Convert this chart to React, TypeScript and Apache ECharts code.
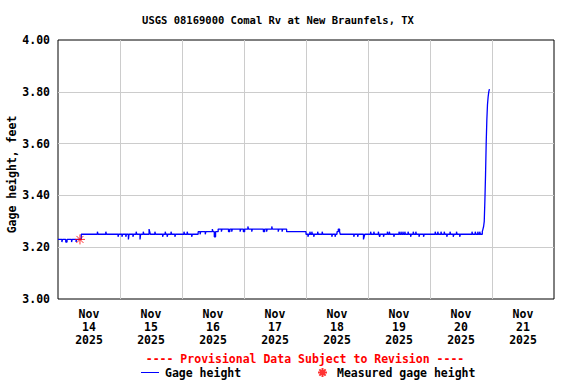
import React, { useEffect, useRef } from "react";
import * as echarts from "echarts";

const chartTitle = "USGS 08169000 Comal Rv at New Braunfels, TX";
const yAxisName = "Gage height, feet";
const provisionalNote = "---- Provisional Data Subject to Revision ----";
const dayLabels = ["Nov\n14\n2025", "Nov\n15\n2025", "Nov\n16\n2025", "Nov\n17\n2025", "Nov\n18\n2025", "Nov\n19\n2025", "Nov\n20\n2025", "Nov\n21\n2025"];
const yTicks = [3.0, 3.2, 3.4, 3.6, 3.8, 4.0];

// change points of the 15-minute gage height record (value holds until next entry)
const gageHeight: [string, number][] = [
  ["11-14 00:00", 3.23],
  ["11-14 01:30", 3.22], ["11-14 01:45", 3.23],
  ["11-14 03:00", 3.22], ["11-14 03:30", 3.23],
  ["11-14 05:15", 3.22], ["11-14 05:30", 3.23],
  ["11-14 07:00", 3.22], ["11-14 07:15", 3.23],
  ["11-14 09:00", 3.25],
  ["11-14 15:15", 3.26], ["11-14 15:30", 3.25],
  ["11-14 18:30", 3.26], ["11-14 18:45", 3.25],
  ["11-14 23:15", 3.24], ["11-14 23:30", 3.25],
  ["11-15 00:45", 3.24], ["11-15 01:00", 3.25],
  ["11-15 02:15", 3.24], ["11-15 02:30", 3.25],
  ["11-15 03:15", 3.23], ["11-15 03:30", 3.25],
  ["11-15 05:00", 3.24], ["11-15 05:15", 3.25],
  ["11-15 06:15", 3.26], ["11-15 06:30", 3.25],
  ["11-15 07:45", 3.23], ["11-15 08:00", 3.25],
  ["11-15 09:00", 3.26], ["11-15 09:15", 3.25],
  ["11-15 11:15", 3.27], ["11-15 11:30", 3.26], ["11-15 11:45", 3.25],
  ["11-15 13:30", 3.26], ["11-15 13:45", 3.25],
  ["11-15 16:30", 3.24], ["11-15 16:45", 3.25],
  ["11-15 17:30", 3.26], ["11-15 17:45", 3.25],
  ["11-15 18:15", 3.24], ["11-15 18:30", 3.25],
  ["11-15 19:45", 3.26], ["11-15 20:00", 3.25],
  ["11-15 21:15", 3.24], ["11-15 21:30", 3.25],
  ["11-16 00:45", 3.26], ["11-16 01:00", 3.25],
  ["11-16 02:00", 3.26], ["11-16 02:15", 3.25],
  ["11-16 03:45", 3.24], ["11-16 04:00", 3.25],
  ["11-16 06:15", 3.26],
  ["11-16 07:00", 3.25], ["11-16 07:15", 3.26],
  ["11-16 09:00", 3.25], ["11-16 09:15", 3.26],
  ["11-16 11:45", 3.27], ["11-16 12:00", 3.26],
  ["11-16 12:30", 3.24], ["11-16 13:00", 3.26],
  ["11-16 14:00", 3.27],
  ["11-16 15:15", 3.26], ["11-16 15:30", 3.27],
  ["11-16 18:00", 3.26], ["11-16 18:30", 3.27],
  ["11-16 19:15", 3.26], ["11-16 19:30", 3.27],
  ["11-16 22:30", 3.26], ["11-16 22:45", 3.27],
  ["11-16 23:45", 3.26], ["11-17 00:15", 3.27],
  ["11-17 01:30", 3.28], ["11-17 01:45", 3.27],
  ["11-17 03:00", 3.26], ["11-17 03:15", 3.27],
  ["11-17 07:30", 3.26], ["11-17 08:00", 3.27],
  ["11-17 08:45", 3.26], ["11-17 09:00", 3.27],
  ["11-17 10:45", 3.28], ["11-17 11:00", 3.27],
  ["11-17 13:15", 3.26], ["11-17 13:30", 3.27],
  ["11-17 14:45", 3.26], ["11-17 15:00", 3.27],
  ["11-17 16:30", 3.26],
  ["11-18 00:00", 3.25],
  ["11-18 00:45", 3.24], ["11-18 01:00", 3.25],
  ["11-18 01:30", 3.26], ["11-18 01:45", 3.25],
  ["11-18 02:15", 3.26], ["11-18 02:30", 3.25],
  ["11-18 03:00", 3.24], ["11-18 03:15", 3.25],
  ["11-18 04:30", 3.26], ["11-18 04:45", 3.25],
  ["11-18 06:15", 3.26], ["11-18 06:30", 3.25],
  ["11-18 10:00", 3.24], ["11-18 10:15", 3.25],
  ["11-18 11:15", 3.24], ["11-18 11:30", 3.25],
  ["11-18 12:00", 3.26], ["11-18 12:30", 3.27], ["11-18 13:00", 3.26], ["11-18 13:15", 3.25],
  ["11-18 18:30", 3.24], ["11-18 18:45", 3.25],
  ["11-18 20:00", 3.24], ["11-18 20:15", 3.25],
  ["11-18 22:15", 3.23], ["11-18 22:30", 3.24], ["11-18 22:45", 3.25],
  ["11-19 01:00", 3.26], ["11-19 01:15", 3.25],
  ["11-19 02:15", 3.26], ["11-19 02:30", 3.25],
  ["11-19 04:00", 3.26], ["11-19 04:15", 3.25],
  ["11-19 04:30", 3.24], ["11-19 04:45", 3.25],
  ["11-19 06:00", 3.24], ["11-19 06:15", 3.25],
  ["11-19 07:30", 3.26], ["11-19 07:45", 3.25],
  ["11-19 08:15", 3.26], ["11-19 08:30", 3.25],
  ["11-19 10:00", 3.24], ["11-19 10:15", 3.25],
  ["11-19 12:00", 3.26], ["11-19 12:15", 3.25],
  ["11-19 12:45", 3.26], ["11-19 13:00", 3.25],
  ["11-19 13:30", 3.26], ["11-19 13:45", 3.25],
  ["11-19 14:15", 3.26], ["11-19 14:30", 3.25],
  ["11-19 15:30", 3.26], ["11-19 15:45", 3.25],
  ["11-19 16:30", 3.24], ["11-19 16:45", 3.25],
  ["11-19 17:30", 3.26], ["11-19 17:45", 3.25],
  ["11-19 18:30", 3.26], ["11-19 18:45", 3.25],
  ["11-19 19:45", 3.24], ["11-19 20:00", 3.25],
  ["11-19 21:30", 3.24], ["11-19 21:45", 3.25],
  ["11-20 02:00", 3.26], ["11-20 02:15", 3.25],
  ["11-20 03:00", 3.26], ["11-20 03:15", 3.25],
  ["11-20 04:15", 3.26], ["11-20 04:30", 3.25],
  ["11-20 05:30", 3.26], ["11-20 05:45", 3.25],
  ["11-20 06:30", 3.24], ["11-20 06:45", 3.25],
  ["11-20 07:45", 3.26], ["11-20 08:00", 3.25],
  ["11-20 09:00", 3.24], ["11-20 09:15", 3.25],
  ["11-20 10:15", 3.26], ["11-20 10:30", 3.25],
  ["11-20 11:30", 3.24], ["11-20 11:45", 3.25],
  ["11-20 16:15", 3.26], ["11-20 16:30", 3.25],
  ["11-20 17:30", 3.26], ["11-20 17:45", 3.25],
  ["11-20 18:30", 3.26], ["11-20 18:45", 3.25],
  ["11-20 19:15", 3.26], ["11-20 19:30", 3.25],
  ["11-20 20:15", 3.26], ["11-20 20:30", 3.27], ["11-20 20:45", 3.28],
  ["11-20 21:00", 3.30], ["11-20 21:15", 3.38], ["11-20 21:30", 3.48],
  ["11-20 21:45", 3.60], ["11-20 22:00", 3.69], ["11-20 22:15", 3.75],
  ["11-20 22:30", 3.78], ["11-20 22:45", 3.80], ["11-20 23:00", 3.81],
];

const measuredGageHeight: [string, number][] = [["11-14 08:30", 3.23]];

const FONT = "DejaVu Sans Mono";

function hoursSinceStart(t: string): number {
  const [md, hm] = t.split(" ");
  const [, d] = md.split("-").map(Number);
  const [h, m] = hm.split(":").map(Number);
  return (d - 14) * 24 + h + m / 60;
}

const asterisk = "path://M5,0L5,10M0,5L10,5M1.5,1.5L8.5,8.5M1.5,8.5L8.5,1.5";

export default function App() {
  const ref = useRef<HTMLDivElement>(null);
  useEffect(() => {
    if (!ref.current) return;
    const chart = echarts.init(ref.current, null, { renderer: "svg" });
    const labelStyle = { fontFamily: FONT, fontWeight: "bold", fontSize: 11.5, color: "#000" };
    chart.setOption({
      animation: false,
      backgroundColor: "#ffffff",
      title: {
        text: chartTitle,
        left: 278,
        top: 14,
        padding: 0,
        textAlign: "center",
        textStyle: { fontFamily: FONT, fontWeight: "bold", fontSize: 10.5, color: "#000" },
      },
      grid: {
        left: 58,
        right: 22,
        top: 40,
        bottom: 85,
        containLabel: false,
        outerBoundsMode: "none",
        show: true,
        borderColor: "#000",
        borderWidth: 1,
        backgroundColor: "#fff",
      },
      legend: [
        {
          left: 141,
          top: 366,
          padding: 0,
          itemWidth: 18,
          itemHeight: 1,
          textStyle: { ...labelStyle, lineHeight: 13, padding: [0, 0, 0, 1] },
          data: [{ name: "Gage height", icon: "rect", itemStyle: { color: "#0000ff" } }],
        },
        {
          left: 317,
          top: 366,
          padding: 0,
          itemWidth: 9,
          itemHeight: 9,
          textStyle: { ...labelStyle, lineHeight: 13, padding: [0, 0, 0, 5] },
          data: [{ name: "Measured gage height" }],
        },
      ],
      xAxis: [
        {
          type: "value",
          min: 0,
          max: 192,
          interval: 24,
          axisLine: { show: false },
          axisTick: { show: false },
          axisLabel: { show: false },
          splitLine: { show: true, showMinLine: false, showMaxLine: false, lineStyle: { color: "#cccccc", width: 1 } },
        },
        {
          type: "category",
          data: dayLabels,
          boundaryGap: true,
          position: "bottom",
          offset: 0,
          axisLine: { show: false },
          axisTick: { show: false },
          splitLine: { show: false },
          axisLabel: { ...labelStyle, margin: 9, lineHeight: 12.8, interval: 0 },
        },
      ],
      yAxis: {
        type: "value",
        min: yTicks[0],
        max: yTicks[yTicks.length - 1],
        interval: 0.2,
        name: yAxisName,
        nameLocation: "middle",
        nameGap: 40,
        nameMoveOverlap: false,
        nameTextStyle: { ...labelStyle, padding: [0, 10, 0, 0] },
        axisLine: { show: false },
        axisTick: { show: false },
        axisLabel: { ...labelStyle, margin: 8, formatter: (v: number) => v.toFixed(2) },
        splitLine: { show: true, showMinLine: false, showMaxLine: false, lineStyle: { color: "#cccccc", width: 1 } },
      },
      graphic: [
        {
          type: "text",
          x: 305,
          y: 359,
          style: {
            text: provisionalNote,
            fill: "#ff0000",
            font: `bold 11.5px "${FONT}"`,
            lineHeight: 12,
            textAlign: "center",
            textVerticalAlign: "middle",
          },
        },
      ],
      series: [
        {
          name: "Gage height",
          type: "line",
          xAxisIndex: 0,
          step: "end",
          symbol: "none",
          showSymbol: false,
          data: gageHeight.map(([t, v]) => [hoursSinceStart(t), v]),
          lineStyle: { color: "#0000ff", width: 1.3 },
          itemStyle: { color: "#0000ff" },
          z: 2,
        },
        {
          name: "Measured gage height",
          type: "scatter",
          xAxisIndex: 0,
          symbol: asterisk,
          symbolSize: 10,
          data: measuredGageHeight.map(([t, v]) => [hoursSinceStart(t), v]),
          itemStyle: { color: "#ff0000", borderColor: "#ff0000", borderWidth: 1 },
          z: 3,
        },
      ],
    });
    return () => chart.dispose();
  }, []);
  return <div ref={ref} style={{ position: "absolute", left: 0, top: 0, width: 576, height: 384 }} />;
}
